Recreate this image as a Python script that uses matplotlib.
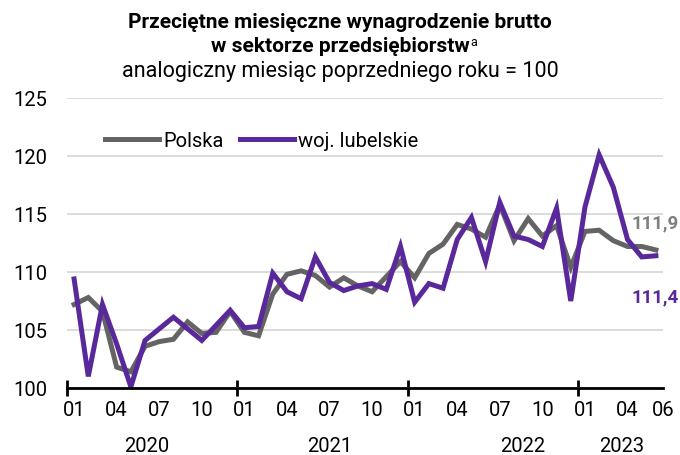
import numpy as np
import matplotlib
matplotlib.use("Agg")
import matplotlib.pyplot as plt

plt.rcParams['font.family'] = ['Roboto', 'DejaVu Sans']

# monthly index, same month previous year = 100; Jan 2020 .. Jun 2023
polska = [107.2, 107.8, 106.6, 101.8, 101.4, 103.6, 104.0, 104.2, 105.7, 104.7,
          104.8, 106.6, 104.8, 104.5, 108.1, 109.8, 110.1, 109.7, 108.7, 109.5,
          108.8, 108.3, 109.6, 110.9, 109.5, 111.6, 112.4, 114.1, 113.7, 113.0,
          115.8, 112.7, 114.6, 113.1, 114.0, 110.4, 113.5, 113.6, 112.7, 112.2,
          112.2, 111.9]
lubelskie = [109.4, 101.0, 107.2, 103.8, 100.1, 104.1, 105.1, 106.1, 105.1, 104.1,
             105.4, 106.7, 105.2, 105.3, 109.9, 108.3, 107.7, 111.3, 109.1, 108.4,
             108.8, 109.0, 108.5, 112.2, 107.4, 109.0, 108.6, 112.8, 114.7, 110.9,
             116.0, 113.1, 112.8, 112.2, 115.5, 107.5, 115.6, 120.1, 117.3, 112.8,
             111.3, 111.4]
month_labels = ['01', '04', '07', '10'] * 3 + ['01', '04', '06']
years = ['2020', '2021', '2022', '2023']

gray = '#646464'
purple = '#59289b'

fig = plt.figure(figsize=(6.8, 4.56), dpi=100)
ax = fig.add_axes([67 / 680, 1 - 389 / 456, 596 / 680, 290 / 456])

x = np.arange(len(polska)) + 0.5
ax.plot(x, polska, color=gray, lw=3.6, label='Polska', solid_joinstyle='miter')
ax.plot(x, lubelskie, color=purple, lw=3.6, label='woj. lubelskie', solid_joinstyle='miter')

ax.set_xlim(0, 42)
ax.set_ylim(100, 125)
ax.set_yticks([100, 105, 110, 115, 120, 125])
ax.grid(axis='y', color='#d9d9d9', lw=1.3)
ax.set_axisbelow(True)
for s in ['top', 'right', 'left']:
    ax.spines[s].set_visible(False)
ax.spines['bottom'].set_linewidth(2)
ax.spines['bottom'].set_color('black')
ax.tick_params(axis='y', length=0, labelsize=14.5, pad=14)

ax.set_xticks([0, 12, 24, 36])
ax.set_xticklabels([])
ax.tick_params(axis='x', which='major', direction='inout', length=11, width=2)
pos = [0.5, 3.5, 6.5, 9.5, 12.5, 15.5, 18.5, 21.5, 24.5, 27.5, 30.5, 33.5, 36.5, 39.5, 42]
ax.set_xticks(pos, minor=True)
ax.set_xticklabels(month_labels, minor=True)
ax.tick_params(axis='x', which='minor', length=0, labelsize=14.5, pad=9)

for yr, xp in zip(years, [5.6, 18.5, 32.1, 39.1]):
    ax.text(xp, -0.2, yr, transform=ax.get_xaxis_transform(), ha='center',
            va='center', fontsize=14.5)

ax.text(43.1, 114.3, '111,9', color='#7f7f7f', fontsize=13.5, fontweight='bold',
        ha='right', va='center', clip_on=False)
ax.text(43.1, 107.9, '111,4', color=purple, fontsize=13.5, fontweight='bold',
        ha='right', va='center', clip_on=False)

ax.legend(loc='upper left', bbox_to_anchor=(0.05, 0.915), ncol=2, frameon=False,
          fontsize=14.5, handlelength=2.7, handletextpad=0.2, columnspacing=0.8,
          borderaxespad=0)

fig.text(0.5, 1 - 23 / 456, 'Przeciętne miesięczne wynagrodzenie brutto',
         ha='center', va='center', fontsize=15, fontweight='bold')
t2 = fig.text(0.5, 1 - 46 / 456, 'w sektorze przedsiębiorstw',
              ha='center', va='center', fontsize=15, fontweight='bold')
fig.canvas.draw()
bb = t2.get_window_extent()
fig.text((bb.x1 + 1) / 680, 1 - 42 / 456, 'a', ha='left', va='center', fontsize=9)
fig.text(0.5, 1 - 72 / 456, 'analogiczny miesiąc poprzedniego roku = 100',
         ha='center', va='center', fontsize=15.5)

fig.savefig('out.png', dpi=100)
